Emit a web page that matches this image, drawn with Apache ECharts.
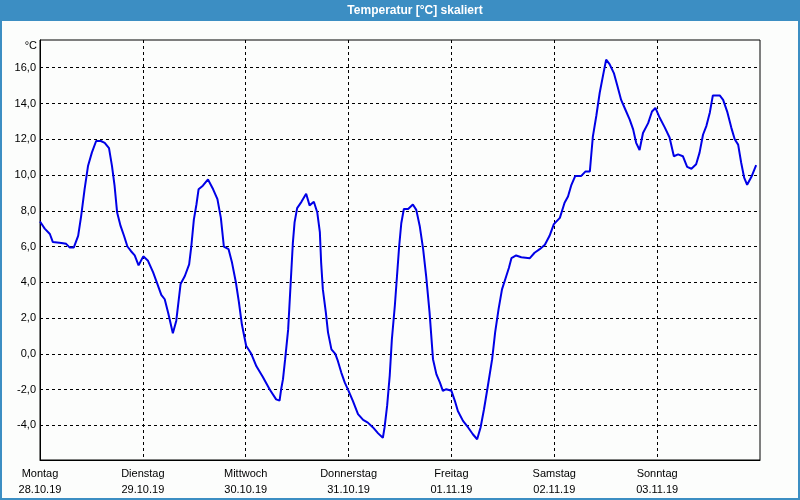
<!DOCTYPE html>
<html>
<head>
<meta charset="utf-8">
<script src="https://cdn.jsdelivr.net/npm/echarts@6/dist/echarts.min.js"></script>
<style>html,body{margin:0;padding:0;background:#fcfdfc;}#c{width:800px;height:500px;}</style>
</head>
<body>
<div id="c"></div>
<script>
// Hours since Monday 28.10.19 00:00
var hours = [0,1.1,2.3,3.0,5.0,6.1,6.9,7.9,8.9,9.6,10.4,11.2,12.1,13.1,14.2,15.1,16.1,16.8,17.4,18.0,18.8,19.6,20.4,21.2,22.1,23.0,24.1,25.2,26.4,27.4,28.3,29.1,29.9,31.0,31.8,32.8,33.8,34.8,35.3,35.9,36.5,37.0,38.0,39.2,40.4,41.4,42.2,42.9,44.0,44.8,45.7,46.4,47.1,48.1,49.3,50.5,52.0,53.6,55.1,55.9,56.3,56.7,57.2,57.9,58.5,59.0,59.4,60.0,61.0,62.1,62.9,63.9,64.7,65.3,65.6,66.0,66.7,67.2,68.0,68.9,69.5,70.3,71.1,72.0,73.0,74.2,75.4,76.5,77.7,78.9,80.0,80.4,81.0,81.6,82.1,82.8,83.3,83.8,84.3,84.9,85.9,87.0,87.8,88.6,89.4,90.1,90.9,91.7,92.5,93.3,94.0,94.8,96.0,96.8,97.5,98.7,99.9,101.0,102.0,102.8,103.6,104.5,105.5,106.2,107.0,107.8,108.6,109.4,110.0,111.1,112.3,112.7,114.3,115.4,116.6,117.8,118.9,119.9,121.3,122.4,123.2,124.0,124.9,126.3,127.3,128.3,128.6,129.0,129.8,130.6,131.4,132.1,132.9,133.9,134.7,135.6,136.6,137.6,138.4,139.1,139.9,140.7,141.9,142.8,143.6,144.6,145.8,146.9,147.9,148.9,150.0,151.0,152.0,153.1,153.9,154.7,155.5,156.3,157.0,158.6,159.4,160.4,161.3,162.1,162.9,163.6,164.3,165.0,166.0,167.1];
var temps = [7.4,7.0,6.7,6.25,6.2,6.15,5.95,5.95,6.6,7.7,9.2,10.5,11.25,11.9,11.9,11.8,11.5,10.5,9.4,7.9,7.15,6.6,6.0,5.75,5.5,4.95,5.45,5.2,4.55,3.9,3.3,3.05,2.3,1.15,1.85,3.9,4.35,5.0,6.0,7.5,8.35,9.2,9.4,9.75,9.2,8.65,7.6,6.0,5.85,5.1,4.0,2.9,1.65,0.45,0.0,-0.7,-1.3,-2.0,-2.55,-2.62,-1.94,-1.42,-0.3,1.35,4.0,6.2,7.35,8.15,8.5,8.95,8.3,8.5,7.9,6.8,5.1,3.6,2.3,1.2,0.25,0.0,-0.4,-1.05,-1.6,-2.07,-2.63,-3.37,-3.7,-3.85,-4.12,-4.45,-4.7,-4.12,-2.9,-1.23,0.8,2.7,4.35,6.0,7.3,8.1,8.1,8.35,8.05,7.15,5.85,4.35,2.3,-0.3,-1.15,-1.6,-2.07,-1.98,-2.07,-2.63,-3.2,-3.75,-4.12,-4.5,-4.78,-4.12,-3.1,-1.8,-0.3,1.2,2.5,3.6,4.2,4.8,5.35,5.5,5.4,5.35,5.35,5.65,5.85,6.1,6.6,7.25,7.6,8.45,8.8,9.45,9.95,9.95,10.2,10.2,11.05,12.15,13.3,14.6,15.6,16.45,16.2,15.7,15.0,14.2,13.65,13.1,12.55,11.8,11.4,12.35,12.9,13.55,13.75,13.2,12.65,12.1,11.05,11.15,11.05,10.45,10.35,10.6,11.25,12.25,12.75,13.5,14.45,14.45,14.2,13.5,12.65,12.0,11.7,10.7,9.85,9.45,9.9,10.55];
var dayNames = ['Montag','Dienstag','Mittwoch','Donnerstag','Freitag','Samstag','Sonntag'];
var dayDates = ['28.10.19','29.10.19','30.10.19','31.10.19','01.11.19','02.11.19','03.11.19'];
var yTicks = [-4,-2,0,2,4,6,8,10,12,14,16];
var xTicks = [0,24,48,72,96,120,144];

var data = hours.map(function(h,i){return [h, temps[i]];});
var FONT = 'Liberation Sans';
var chart = echarts.init(document.getElementById('c'), null, {renderer:'canvas'});
chart.setOption({
  animation:false,
  backgroundColor:'#fcfdfc',
  textStyle:{fontFamily:FONT},
  graphic:[
    {type:'rect', shape:{x:0,y:0,width:800,height:500}, style:{fill:'none', stroke:'#3c8ec3', lineWidth:4}, z:100},
    {type:'rect', shape:{x:0,y:0,width:800,height:21}, style:{fill:'#3c8ec3'}, z:100},
    {type:'text', x:415, y:11, style:{text:'Temperatur [°C] skaliert', fill:'#ffffff', font:'bold 12px "Liberation Sans"', textAlign:'center', textVerticalAlign:'middle'}, z:101},
    {type:'text', x:37, y:46, style:{text:'°C', fill:'#000', font:'11px "Liberation Sans"', textAlign:'right', textVerticalAlign:'middle'}, z:101}
  ],
  grid:{left:40, top:40, width:720, height:420, show:true, borderColor:'#000', borderWidth:1, backgroundColor:'#fcfdfc'},
  xAxis:{
    type:'value', min:0, max:168, interval:24,
    axisLine:{show:true, onZero:false, lineStyle:{color:'#000', width:1}},
    axisTick:{show:false, customValues:xTicks},
    splitLine:{show:true, lineStyle:{color:'#000', type:[3,3], width:1}},
    axisLabel:{
      customValues:xTicks,
      color:'#000', fontSize:11, fontFamily:FONT, lineHeight:16, margin:6,
      formatter:function(v){var i=Math.round(v/24); return dayNames[i]+'\n'+dayDates[i];}
    }
  },
  yAxis:{
    type:'value', min:-5.94, max:17.55,
    axisLine:{show:true, onZero:false, lineStyle:{color:'#000', width:1}},
    axisTick:{show:false, customValues:yTicks},
    splitLine:{show:true, lineStyle:{color:'#000', type:[3,3], width:1}},
    axisLabel:{
      customValues:yTicks,
      color:'#000', fontSize:11, fontFamily:FONT, margin:4,
      formatter:function(v){return v.toFixed(1).replace('.',',');}
    }
  },
  series:[{
    type:'line', data:data, showSymbol:false, symbol:'none',
    lineStyle:{color:'#0000e6', width:2}, smooth:false
  }]
});
</script>
</body>
</html>
